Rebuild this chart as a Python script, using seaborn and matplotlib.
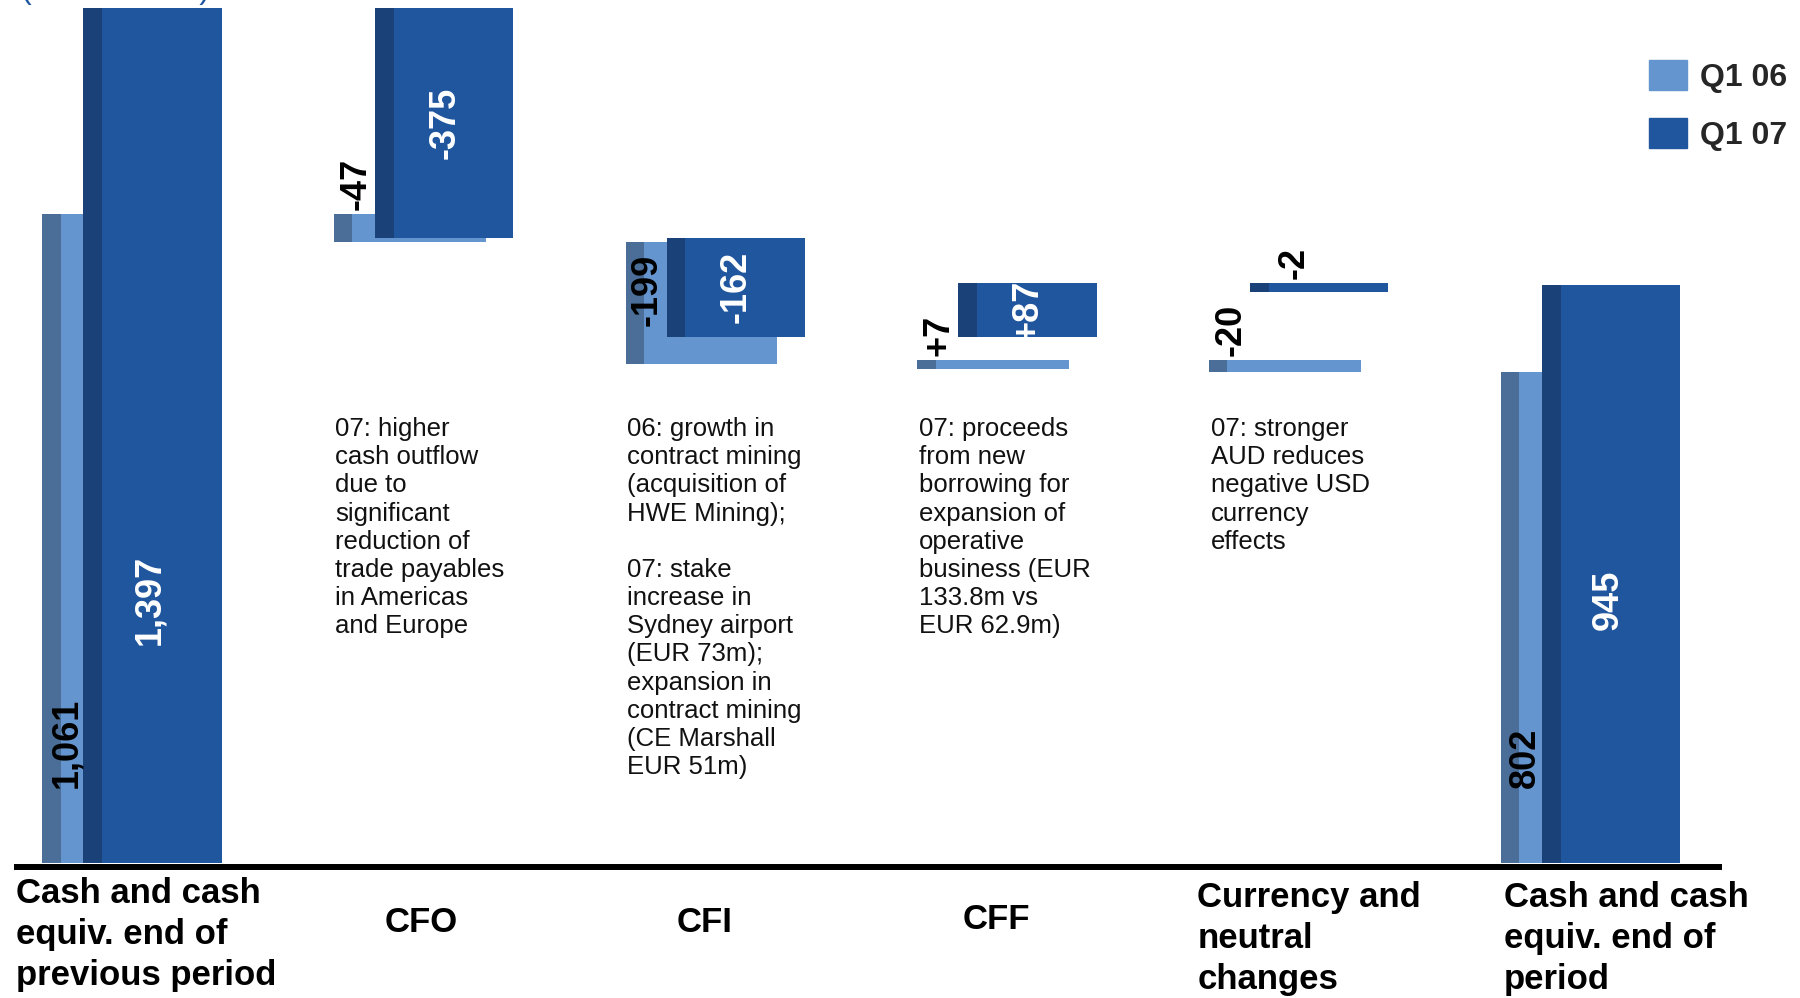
import matplotlib.pyplot as plt
from matplotlib.patches import Patch
from matplotlib.transforms import blended_transform_factory
import numpy as np
import seaborn as sns

# ---- data (EUR m) ----
categories = ['Cash and cash\nequiv. end of\nprevious period', 'CFO', 'CFI', 'CFF',
              'Currency and\nneutral\nchanges', 'Cash and cash\nequiv. end of\nperiod']
is_total = [True, False, False, False, False, True]
series = ['Q1 06', 'Q1 07']
q1_06 = [1061, -47, -199, 7, -20, 802]
q1_07 = [1397, -375, -162, 87, -2, 945]
labels_06 = ['1,061', '-47', '-199', '+7', '-20', '802']
labels_07 = ['1,397', '-375', '-162', '+87', '-2', '945']
notes = [
    '',
    '07: higher\ncash outflow\ndue to\nsignificant\nreduction of\ntrade payables\nin Americas\nand Europe',
    '06: growth in\ncontract mining\n(acquisition of\nHWE Mining);\n\n07: stake\nincrease in\nSydney airport\n'
    '(EUR 73m);\nexpansion in\ncontract mining\n(CE Marshall\nEUR 51m)',
    '07: proceeds\nfrom new\nborrowing for\nexpansion of\noperative\nbusiness (EUR\n133.8m vs\nEUR 62.9m)',
    '07: stronger\nAUD reduces\nnegative USD\ncurrency\neffects',
    '',
]

# ---- style ----
face = {'Q1 06': '#6495CE', 'Q1 07': '#1F569E'}
side = {'Q1 06': '#4A6E98', 'Q1 07': '#1A4178'}
# offset, total width, side width (in group units)
geom = {'Q1 06': (0.0, 0.52, 0.063), 'Q1 07': (0.14, 0.475, 0.065)}
MIN_H = 14

sns.set_theme(style='white')
plt.rcParams['font.family'] = ['Liberation Sans', 'DejaVu Sans']


def waterfall(values, totals, min_h=MIN_H):
    bottoms, heights = [], []
    run = 0
    for v, t in zip(values, totals):
        if t:
            lo, hi = 0, v
            run = v
        else:
            lo, hi = sorted([run, run + v])
            run += v
        if hi - lo < min_h:
            lo = hi - min_h
        bottoms.append(lo)
        heights.append(hi - lo)
    return np.array(bottoms), np.array(heights)


fig = plt.figure(figsize=(18, 9.98), dpi=100)
ax = fig.add_axes([17 / 1800, 131 / 998, 1702 / 1800, 867 / 998])
ax.set_xlim(-0.0866, 5.748)
ax.set_ylim(-6, 1410)

x = np.arange(len(categories))
data = {'Q1 06': q1_06, 'Q1 07': q1_07}
bars = {}
for z, s in enumerate(series):
    off, w, sw = geom[s]
    b, h = waterfall(data[s], is_total)
    bars[s] = (b, h)
    ax.bar(x + off, h, width=sw, bottom=b, align='edge', color=side[s], linewidth=0, zorder=2 + 2 * z)
    ax.bar(x + off + sw, h, width=w - sw, bottom=b, align='edge', color=face[s], linewidth=0, zorder=3 + 2 * z)

lab_kw = dict(rotation=90, fontsize=26, fontweight='bold', textcoords='offset points', zorder=10)

# Q1 06 labels (black)
b, h = bars['Q1 06']
for i, (v, lab) in enumerate(zip(q1_06, labels_06)):
    top = b[i] + h[i]
    if is_total[i]:
        ax.annotate(lab, (x[i] + 0.085, 0), xytext=(0, 54), ha='center', va='bottom', color='black', **lab_kw)
    elif abs(v) > 100:
        ax.annotate(lab, (x[i] + 0.075, top), xytext=(0, -8), ha='center', va='top', color='black', **lab_kw)
    else:
        ax.annotate(lab, (x[i] + 0.075, top), xytext=(0, 3), ha='center', va='bottom', color='black', **lab_kw)

# Q1 07 labels (white inside / black above)
b, h = bars['Q1 07']
for i, (v, lab) in enumerate(zip(q1_07, labels_07)):
    if is_total[i]:
        ax.annotate(lab, (x[i] + 0.37, 430), xytext=(0, 0), ha='center', va='center', color='white', **lab_kw)
    elif abs(v) > 50:
        ax.annotate(lab, (x[i] + 0.38, b[i] + h[i] / 2), xytext=(0, 0), ha='center', va='center',
                    color='white', **lab_kw)
    else:
        ax.annotate(lab, (x[i] + 0.29, b[i] + h[i]), xytext=(0, 3), ha='center', va='bottom',
                    color='black', **lab_kw)

# explanatory notes
for i, n in enumerate(notes):
    if n:
        ax.text(x[i] + 0.005, 729, n, ha='left', va='top', fontsize=18.5, linespacing=1.22,
                color='#111111')

# category labels below the axis
trans = blended_transform_factory(ax.transData, fig.transFigure)
label_dx = [-0.09, 0.30, 0.27, 0.27, -0.04, 0.01]
label_ha = ['left', 'center', 'center', 'center', 'left', 'left']
label_y = [0.121, 0.076, 0.076, 0.079, 0.117, 0.117]
for i, c in enumerate(categories):
    ax.text(x[i] + label_dx[i], label_y[i], c, transform=trans, ha=label_ha[i],
            va='center' if '\n' not in c else 'top', fontsize=25, fontweight='bold',
            linespacing=1.3, color='black')

# cut-off unit caption at the very top
fig.text(21 / 1800, 1 + 2 / 998, '(EUR million)', fontsize=23, color='#1F569E', va='baseline', ha='left')

ax.set_xticks([])
ax.set_yticks([])
sns.despine(ax=ax, left=True, top=True, right=True)
ax.spines['bottom'].set_color('black')
ax.spines['bottom'].set_linewidth(4.3)
ax.spines['bottom'].set_zorder(12)
ax.set_facecolor('white')

handles = [Patch(color=face[s]) for s in series]
fig.legend(handles, series, loc='upper left', bbox_to_anchor=(1649 / 1800, 1 - 60 / 998),
           frameon=False, prop={'weight': 'bold', 'size': 23}, handlelength=1.2, handleheight=1.05,
           handletextpad=0.4, labelspacing=0.8, borderpad=0, borderaxespad=0)

fig.savefig('out.png', dpi=100, facecolor='white')
